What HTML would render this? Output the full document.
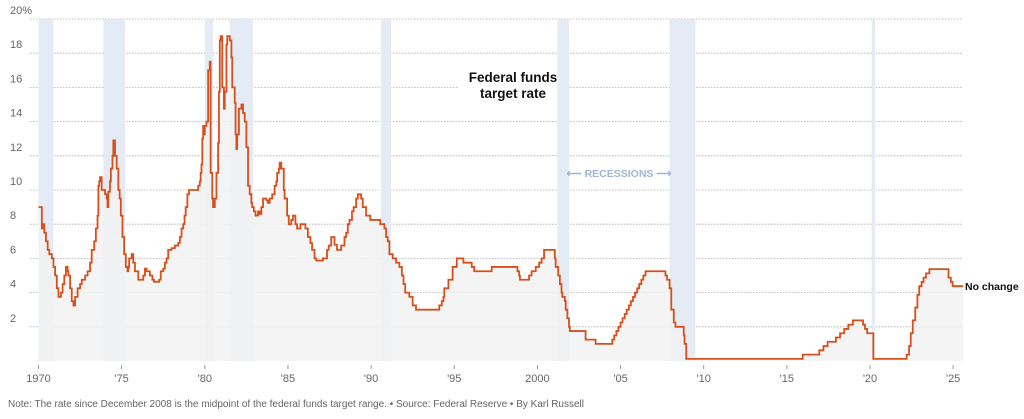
<!DOCTYPE html>
<html><head><meta charset="utf-8"><style>
body{margin:0;background:#fff;width:1024px;height:414px;overflow:hidden;font-family:"Liberation Sans",sans-serif}
svg text{font-family:"Liberation Sans",sans-serif}
</style></head><body>
<svg id="chart" width="1024" height="414" viewBox="0 0 1024 414"></svg>
<script>
const yTicks=[2,4,6,8,10,12,14,16,18,20];
const xTickYears=[1970,1975,1980,1985,1990,1995,2000,2005,2010,2015,2020,2025];
const xTickLabels=["1970","'75","'80","'85","'90","'95","2000","'05","'10","'15","'20","'25"];
const recessionStarts=[1970.0,1973.9,1980.0,1981.5,1990.6,2001.2,2007.95,2020.1];
const recessionEnds=[1970.9,1975.2,1980.5,1982.9,1991.2,2001.9,2009.5,2020.3];
const rateYears=[1970,1970.2,1970.25,1970.35,1970.45,1970.55,1970.65,1970.8,1970.9,1971.0,1971.1,1971.2,1971.35,1971.45,1971.55,1971.65,1971.75,1971.8,1971.9,1972.0,1972.1,1972.2,1972.35,1972.5,1972.6,1972.8,1972.95,1973.1,1973.2,1973.35,1973.45,1973.55,1973.6,1973.65,1973.7,1973.8,1974.0,1974.1,1974.15,1974.2,1974.3,1974.35,1974.45,1974.5,1974.6,1974.7,1974.8,1974.88,1974.95,1975.05,1975.15,1975.25,1975.35,1975.4,1975.45,1975.6,1975.7,1975.8,1976.0,1976.3,1976.4,1976.5,1976.7,1976.85,1976.95,1977.25,1977.35,1977.5,1977.6,1977.7,1977.8,1978.0,1978.2,1978.4,1978.5,1978.6,1978.7,1978.78,1978.85,1978.95,1979.05,1979.6,1979.7,1979.75,1979.8,1979.85,1979.9,1979.95,1980.0,1980.1,1980.2,1980.3,1980.35,1980.45,1980.5,1980.6,1980.7,1980.8,1980.85,1980.9,1980.95,1981.05,1981.15,1981.2,1981.3,1981.35,1981.5,1981.6,1981.65,1981.8,1981.85,1981.9,1981.95,1982.05,1982.2,1982.3,1982.4,1982.5,1982.6,1982.7,1982.8,1982.85,1982.95,1983.05,1983.2,1983.3,1983.4,1983.5,1983.7,1983.8,1983.9,1984.05,1984.2,1984.3,1984.35,1984.45,1984.5,1984.6,1984.75,1984.8,1984.95,1985.05,1985.2,1985.3,1985.45,1985.55,1985.75,1986.05,1986.2,1986.35,1986.45,1986.6,1986.7,1987.1,1987.35,1987.45,1987.6,1987.8,1987.95,1988.2,1988.4,1988.5,1988.6,1988.7,1988.85,1988.95,1989.1,1989.2,1989.4,1989.5,1989.7,1989.95,1990.55,1990.8,1990.9,1991.0,1991.1,1991.3,1991.5,1991.7,1991.85,1991.95,1992.05,1992.3,1992.5,1992.7,1994.1,1994.25,1994.35,1994.4,1994.65,1994.9,1995.15,1995.55,1996.05,1996.2,1997.25,1998.8,1998.9,1998.95,1999.5,1999.65,1999.9,2000.1,2000.25,2000.4,2001.05,2001.1,2001.25,2001.35,2001.45,2001.5,2001.65,2001.7,2001.8,2001.9,2001.95,2002.9,2003.5,2004.5,2004.62,2004.75,2004.87,2005.0,2005.12,2005.25,2005.37,2005.5,2005.62,2005.75,2005.87,2006.0,2006.12,2006.25,2006.37,2006.5,2007.7,2007.8,2007.95,2008.05,2008.2,2008.3,2008.8,2008.85,2008.95,2015.95,2016.95,2017.2,2017.45,2017.95,2018.2,2018.45,2018.7,2018.97,2019.58,2019.7,2019.83,2020.2,2022.2,2022.35,2022.45,2022.57,2022.72,2022.85,2022.96,2023.1,2023.22,2023.37,2023.57,2024.72,2024.86,2024.97];
const rateValues=[9.0,7.75,8.0,7.5,7.0,6.5,6.25,6.0,5.5,5.0,4.25,3.75,4.0,4.5,5.0,5.5,5.25,5.0,4.25,3.5,3.25,3.75,4.25,4.5,4.75,5.0,5.25,5.75,6.5,7.0,7.75,8.5,10.25,10.5,10.75,10.0,9.75,9.5,9.0,9.9,10.5,11.25,12.0,12.9,12.0,11.25,10.0,9.5,8.5,7.25,6.25,5.5,5.25,5.5,6.0,6.25,5.75,5.25,4.75,5.0,5.4,5.25,5.0,4.75,4.63,4.75,5.25,5.4,5.75,6.0,6.5,6.6,6.75,6.9,7.25,7.75,8.0,8.5,9.0,9.75,10.0,10.25,10.5,11.0,11.5,13.0,13.75,13.25,13.75,14.0,17.0,17.5,11.0,9.5,9.0,9.5,11.0,12.75,15.75,18.75,19.0,16.0,14.75,15.75,18.5,19.0,18.75,17.75,16.0,15.1,13.25,12.4,13.25,14.75,15.0,14.5,14.0,12.5,10.25,9.75,9.25,9.0,8.75,8.5,8.75,8.6,9.0,9.5,9.4,9.25,9.5,9.75,10.25,10.5,11.0,11.25,11.6,11.25,10.0,9.5,8.5,8.0,8.25,8.5,8.0,7.75,8.0,7.75,7.25,6.9,6.5,6.0,5.875,6.0,6.5,6.75,7.25,6.8,6.5,6.75,7.25,7.5,8.0,8.25,8.75,9.0,9.5,9.75,9.5,9.0,8.5,8.25,8.0,7.75,7.25,7.0,6.25,6.0,5.75,5.5,5.0,4.5,4.0,3.75,3.25,3.0,3.25,3.5,3.75,4.25,4.75,5.5,6.0,5.75,5.5,5.25,5.5,5.25,5.0,4.75,5.0,5.25,5.5,5.75,6.0,6.5,6.0,5.5,5.0,4.5,4.0,3.75,3.5,3.0,2.5,2.0,1.75,1.25,1.0,1.25,1.5,1.75,2.0,2.25,2.5,2.75,3.0,3.25,3.5,3.75,4.0,4.25,4.5,4.75,5.0,5.25,5.0,4.75,4.25,3.0,2.25,2.0,1.5,1.0,0.125,0.375,0.625,0.875,1.125,1.375,1.625,1.875,2.125,2.375,2.125,1.875,1.625,0.125,0.375,0.875,1.625,2.375,3.125,3.875,4.375,4.625,4.875,5.125,5.375,4.875,4.625,4.375];
const endYear=2025.6;

const NS="http://www.w3.org/2000/svg";
const svg=document.getElementById('chart');
const X=y=>38.5+(y-1970)*16.63;
const Y=v=>361-v*17.1;
function mk(tag,attrs,parent){const e=document.createElementNS(NS,tag);for(const k in attrs)e.setAttribute(k,attrs[k]);(parent||svg).appendChild(e);return e;}

// gridlines + y labels
yTicks.forEach(t=>{
  const l=mk('line',{x1:30,x2:963,y1:Y(t),y2:Y(t),stroke:'#aaa','stroke-width':0.8,'stroke-dasharray':'1.5,1.5'});
  
  
  const tx=mk('text',{x:10,y:Y(t)-5,'font-size':11,fill:'#666'});
  tx.textContent=t===20?'20%':String(t);
  
  
});
// title backdrop (behind bands)
mk('rect',{x:458,y:62,width:99,height:44,fill:'#fff'});
// recessions
recessionStarts.forEach((s,i)=>{
  const r=mk('rect',{x:X(s),y:19,width:Math.max(3,X(recessionEnds[i])-X(s)),height:342,fill:'#e4ebf4'});
  
  
});
// x ticks
xTickYears.forEach((yr,i)=>{
  mk('line',{x1:X(yr),x2:X(yr),y1:365,y2:369,stroke:'#999','stroke-width':1});
  const tx=mk('text',{x:X(yr),y:382,'font-size':11,fill:'#666','text-anchor':'middle'});
  tx.textContent=xTickLabels[i];
  
  
});
// step path
let d='M'+X(rateYears[0])+','+Y(rateValues[0]);
for(let i=1;i<rateYears.length;i++){d+='H'+X(rateYears[i])+'V'+Y(rateValues[i]);}
d+='H'+X(endYear);
const area=mk('path',{d:d+'V361H'+X(1970)+'Z',fill:'#f2f2f2','fill-opacity':0.85});


const line=mk('path',{d:d,fill:'none',stroke:'#d4511e','stroke-width':1.8});


// title
const t1=mk('text',{x:513,y:82,'font-size':13.5,'font-weight':'bold','text-anchor':'middle',fill:'#111'});t1.textContent='Federal funds';


const t2=mk('text',{x:513,y:98,'font-size':13.5,'font-weight':'bold','text-anchor':'middle',fill:'#111'});t2.textContent='target rate';


const rc=mk('text',{x:619,y:177,'font-size':10.5,'font-weight':'bold','text-anchor':'middle',fill:'#9fb5d6'});
rc.textContent='⟵ RECESSIONS ⟶';


const nc=mk('text',{x:965,y:290,'font-size':10.5,'font-weight':'bold',fill:'#111'});
nc.textContent='No change';


const note=mk('text',{x:8,y:407,'font-size':10,fill:'#666'});
note.textContent='Note: The rate since December 2008 is the midpoint of the federal funds target range.  •  Source: Federal Reserve  •  By Karl Russell';


</script>
</body></html>
